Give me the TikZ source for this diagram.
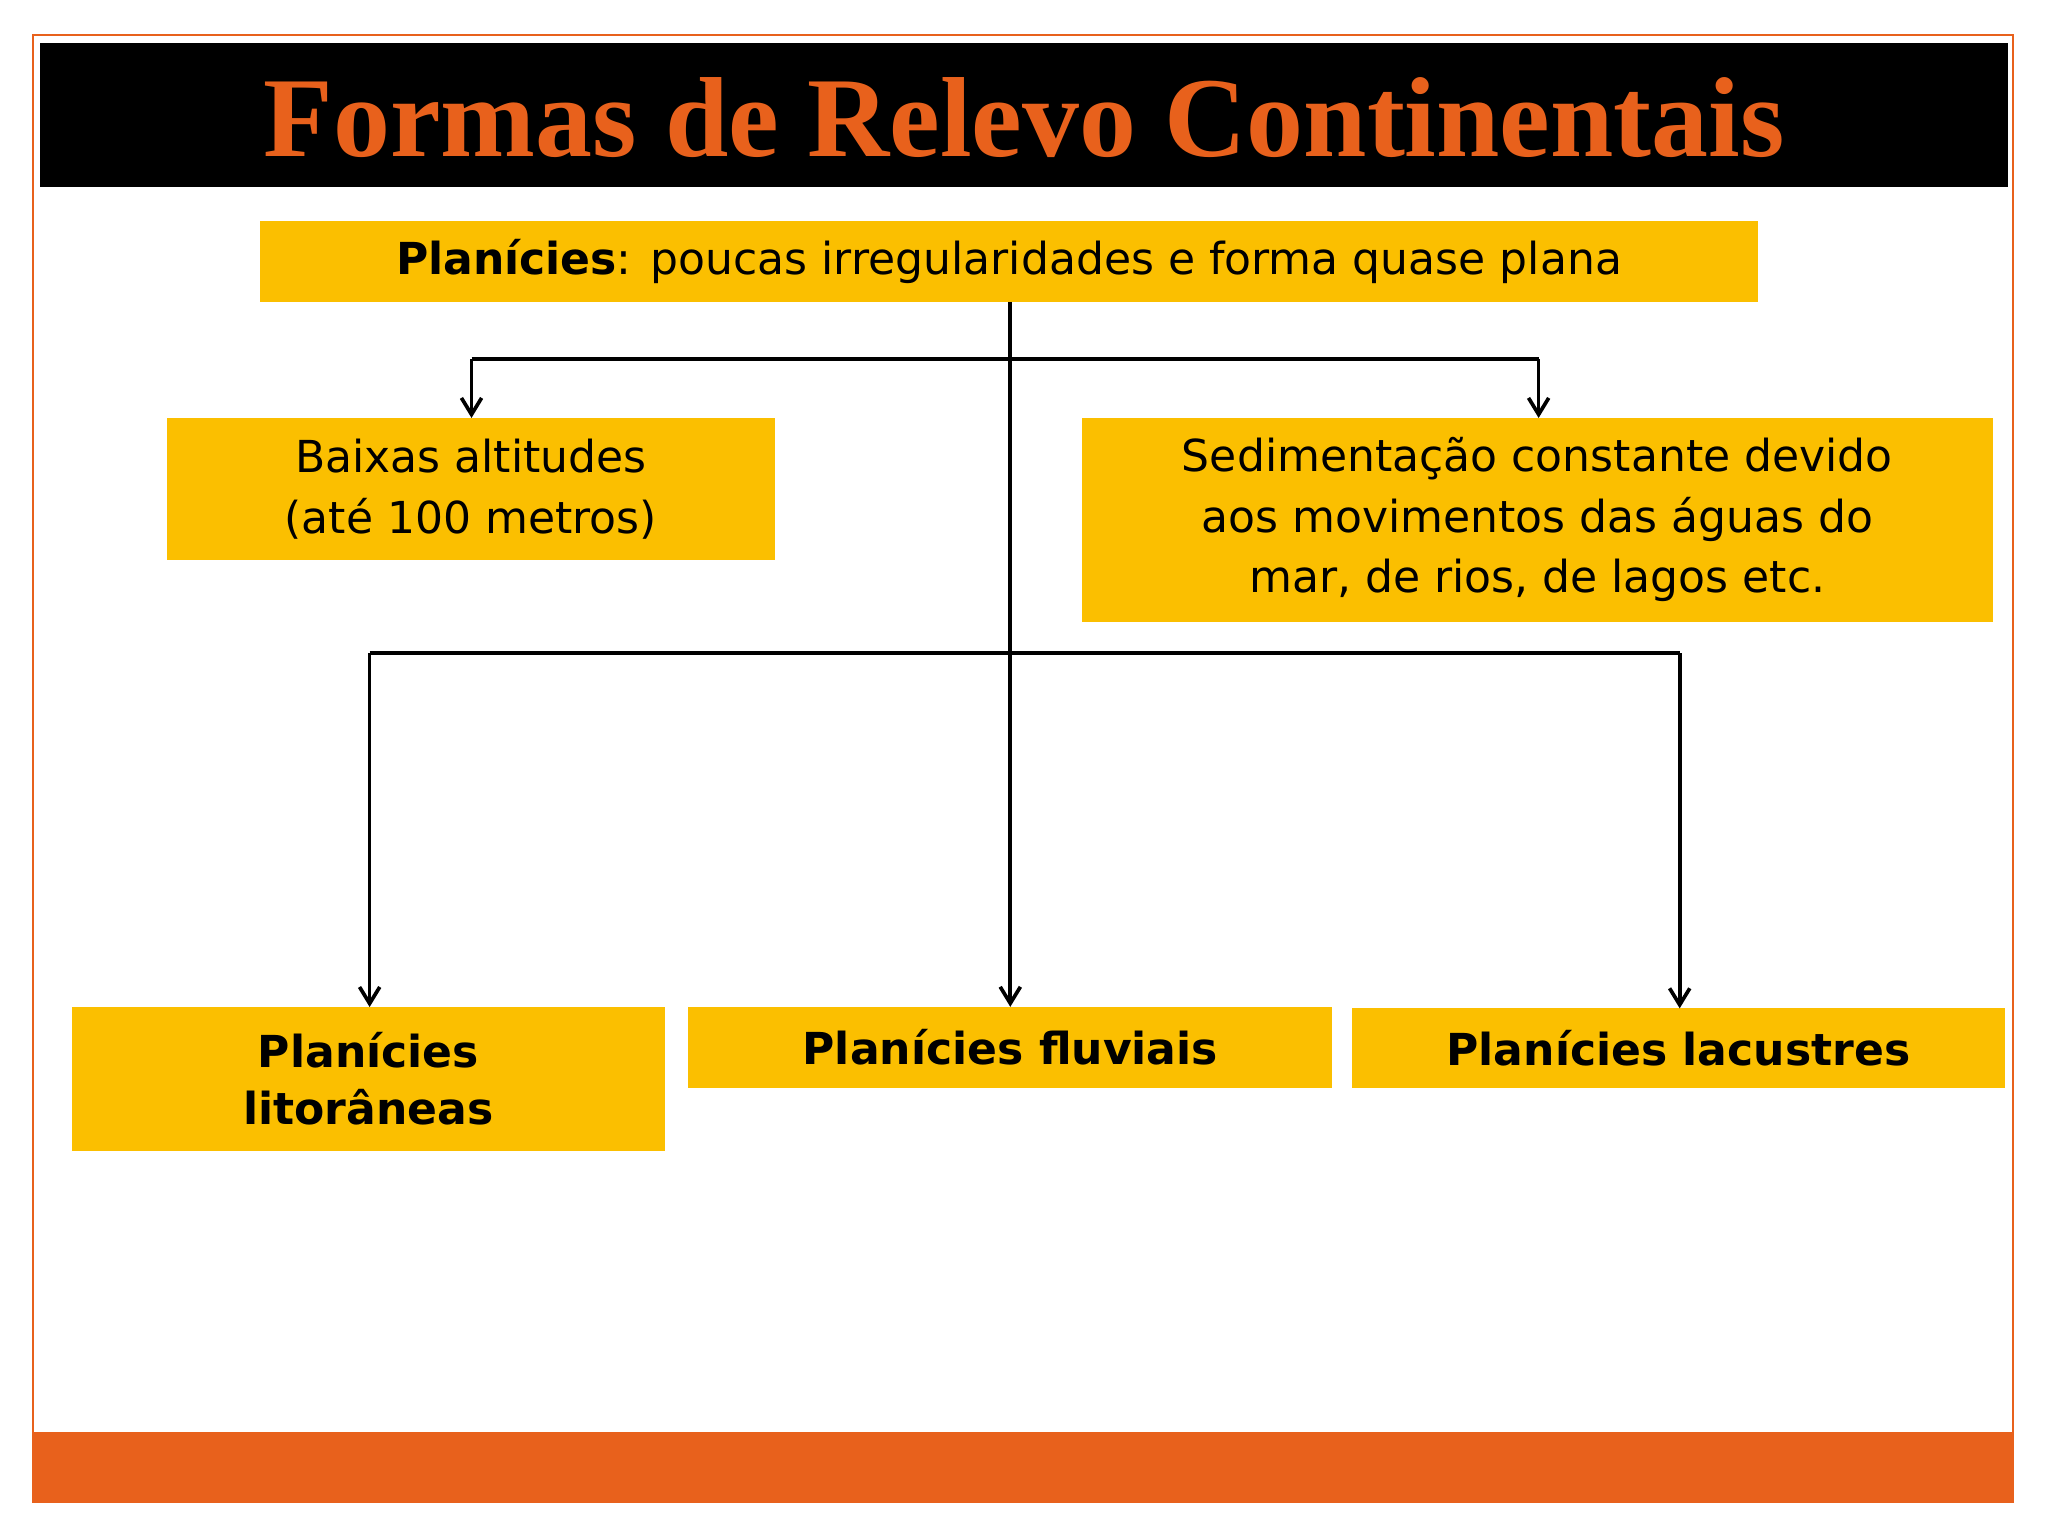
\documentclass[tikz,border=0pt]{standalone}
\usepackage{fontspec}
\setmainfont{DejaVu Sans}
\newfontfamily\titlefont{Liberation Serif}
\usetikzlibrary{arrows.meta}
\definecolor{ybox}{HTML}{FBBF00}
\definecolor{org}{HTML}{E8611C}
\tikzset{
  ybox/.style={fill=ybox,inner sep=0pt,align=center,font=\fontsize{48}{66}\selectfont},
  conn/.style={line width=4pt,-{Straight Barb[length=18pt,width=22pt,line width=4pt]}},
  plain/.style={line width=4pt}
}
\begin{document}
\begin{tikzpicture}[x=0.05cm,y=-0.05cm]
\useasboundingbox (0,0) rectangle (1568,1176);
\fill[white] (0,0) rectangle (1568,1176);
\draw[org,line width=2pt] (25,27) rectangle (1541,1150);
\fill[org] (25,1096) rectangle (1541,1150);
\fill[black] (31,33) rectangle (1537,143);
\node[text=org,font=\titlefont\bfseries\fontsize{124}{124}\selectfont] (title) at (784,90) {Formas de Relevo Continentais};

\node[ybox,minimum width=57.35cm,minimum height=3.1cm] (top) at (772.5,200) {\textbf{Planícies}: poucas irregularidades e forma quase plana};
\node[ybox,minimum width=23.25cm,minimum height=5.45cm] (baixa) at (360.5,374.5) {Baixas altitudes\\(até 100 metros)};
\node[ybox,minimum width=34.9cm,minimum height=7.8cm] (sed) at (1177,398) {Sedimentação constante devido\\aos movimentos das águas do\\mar, de rios, de lagos etc.};
\node[ybox,font=\bfseries\fontsize{48}{62}\selectfont,minimum width=22.7cm,minimum height=5.5cm] (lit) at (282,826) {Planícies\\litorâneas};
\node[ybox,font=\bfseries\fontsize{48}{62}\selectfont,minimum width=24.65cm,minimum height=3.1cm] (flu) at (773.5,802) {Planícies fluviais};
\node[ybox,font=\bfseries\fontsize{48}{62}\selectfont,minimum width=25cm,minimum height=3.05cm] (lac) at (1285,802.5) {Planícies lacustres};

\coordinate (j1) at (773,275);
\coordinate (j2) at (773,500);
\draw[conn] (top.south -| flu.north) -- (flu.north);
\draw[plain] (361,275) -- (1178,275);
\draw[conn] (361,275) -- (361,320);
\draw[conn] (1178,275) -- (1178,320);
\draw[plain] (283,500) -- (1286,500);
\draw[conn] (283,500) -- (283,771);
\draw[conn] (1286,500) -- (1286,772);
\end{tikzpicture}
\end{document}
